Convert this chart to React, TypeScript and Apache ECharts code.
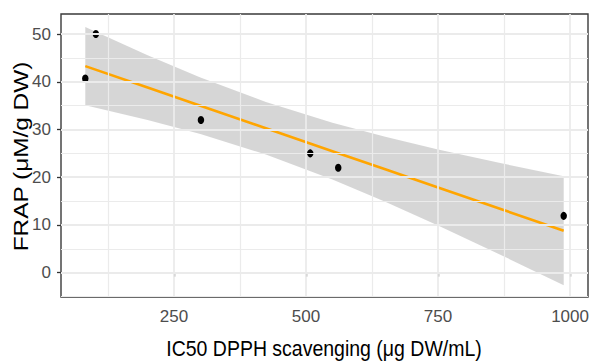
import React, { useEffect, useRef } from "react";
import * as echarts from "echarts";

const pointsX = [82, 102, 301, 508, 561, 988];
const pointsY = [40.7, 50, 32, 25, 22, 11.9];

const fitX = [82, 200, 300, 424, 550, 650, 750, 870, 988];
const fitY = [43.28, 38.79, 34.98, 30.26, 25.46, 21.65, 17.85, 13.28, 8.79];
const bandLow = [35.1, 32.0, 29.05, 24.75, 19.52, 14.84, 9.87, 3.65, -2.62];
const bandHigh = [51.46, 45.57, 40.91, 35.77, 31.4, 28.46, 25.83, 22.91, 20.2];

const xTicks = [250, 500, 750, 1000];
const xMinor = [125, 375, 625, 875];
const yTicks = [0, 10, 20, 30, 40, 50];
const yMinor = [-5, 5, 15, 25, 35, 45];

const xTitle = "IC50 DPPH scavenging (μg DW/mL)";
const yTitle = "FRAP (μM/g DW)";

const FONT = "Liberation Sans, Arial, sans-serif";

export default function App() {
  const ref = useRef<HTMLDivElement>(null);
  useEffect(() => {
    document.body.style.margin = "0";
    if (!ref.current) return;
    const chart = echarts.init(ref.current, undefined, { renderer: "svg" });
    const gridLine = (w: number) => ({ color: "#EBEBEB", type: "solid", width: w });
    chart.setOption({
      animation: false,
      backgroundColor: "#ffffff",
      grid: {
        left: 61,
        right: 3,
        top: 14,
        bottom: 64,
        outerBoundsMode: "none",
        containLabel: false,
        show: true,
        borderColor: "#3a3a3a",
        borderWidth: 1.4,
        backgroundColor: "transparent",
      },
      graphic: [
        {
          type: "text",
          x: 21.5,
          y: 156.5,
          rotation: Math.PI / 2,
          scaleX: 1.25,
          scaleY: 1,
          style: {
            text: yTitle,
            fontFamily: FONT,
            fontSize: 19.5,
            fill: "#000",
            align: "center",
            verticalAlign: "middle",
          },
        },
        {
          type: "text",
          x: 324,
          y: 348,
          scaleX: 1,
          scaleY: 1.15,
          style: {
            text: xTitle,
            fontFamily: FONT,
            fontSize: 19.5,
            fill: "#000",
            align: "center",
            verticalAlign: "middle",
          },
        },
      ],
      xAxis: {
        type: "value",
        min: 36,
        max: 1034,
        axisLine: { show: false },
        splitLine: { show: false },
        axisTick: {
          show: true,
          customValues: xTicks,
          length: 4,
          lineStyle: { color: "#333", width: 1.3 },
        },
        axisLabel: {
          customValues: xTicks,
          margin: 11,
          fontFamily: FONT,
          fontSize: 17,
          color: "#4D4D4D",
          formatter: (v: number) => String(v),
        },
      },
      yAxis: {
        type: "value",
        min: -5.1,
        max: 54.2,
        axisLine: { show: false },
        splitLine: { show: false },
        axisTick: {
          show: true,
          customValues: yTicks,
          length: 4,
          lineStyle: { color: "#333", width: 1.3 },
        },
        axisLabel: {
          customValues: yTicks,
          margin: 10,
          fontFamily: FONT,
          fontSize: 17,
          color: "#4D4D4D",
          formatter: (v: number) => String(v),
        },
      },
      series: [
        {
          type: "line",
          data: [],
          z: 1,
          silent: true,
          markLine: {
            silent: true,
            symbol: ["none", "none"],
            label: { show: false },
            animation: false,
            data: [
              ...xMinor.map((v) => ({ xAxis: v, lineStyle: gridLine(1.2) })),
              ...yMinor.map((v) => ({ yAxis: v, lineStyle: gridLine(1.2) })),
              ...xTicks.map((v) => ({ xAxis: v, lineStyle: gridLine(1.8) })),
              ...yTicks.map((v) => ({ yAxis: v, lineStyle: gridLine(1.8) })),
            ],
          },
        },
        {
          type: "custom",
          z: 2,
          silent: true,
          data: [[fitX[0], fitY[0]]],
          renderItem: (_params: any, api: any) => {
            const pts: number[][] = [];
            for (let i = 0; i < fitX.length; i++) pts.push(api.coord([fitX[i], bandHigh[i]]));
            for (let i = fitX.length - 1; i >= 0; i--) pts.push(api.coord([fitX[i], bandLow[i]]));
            return {
              type: "polygon",
              shape: { points: pts },
              style: { fill: "rgba(153,153,153,0.4)" },
            };
          },
        },
        {
          type: "line",
          z: 3,
          data: fitX.map((x, i) => [x, fitY[i]]),
          showSymbol: false,
          lineStyle: { color: "#FFA500", width: 2.6 },
          itemStyle: { color: "#FFA500" },
        },
        {
          type: "scatter",
          z: 4,
          data: pointsX.map((x, i) => [x, pointsY[i]]),
          symbolSize: [6.5, 8],
          itemStyle: { color: "#000", opacity: 1 },
        },
      ],
    });
    return () => chart.dispose();
  }, []);
  return <div ref={ref} style={{ width: 591, height: 361 }} />;
}
